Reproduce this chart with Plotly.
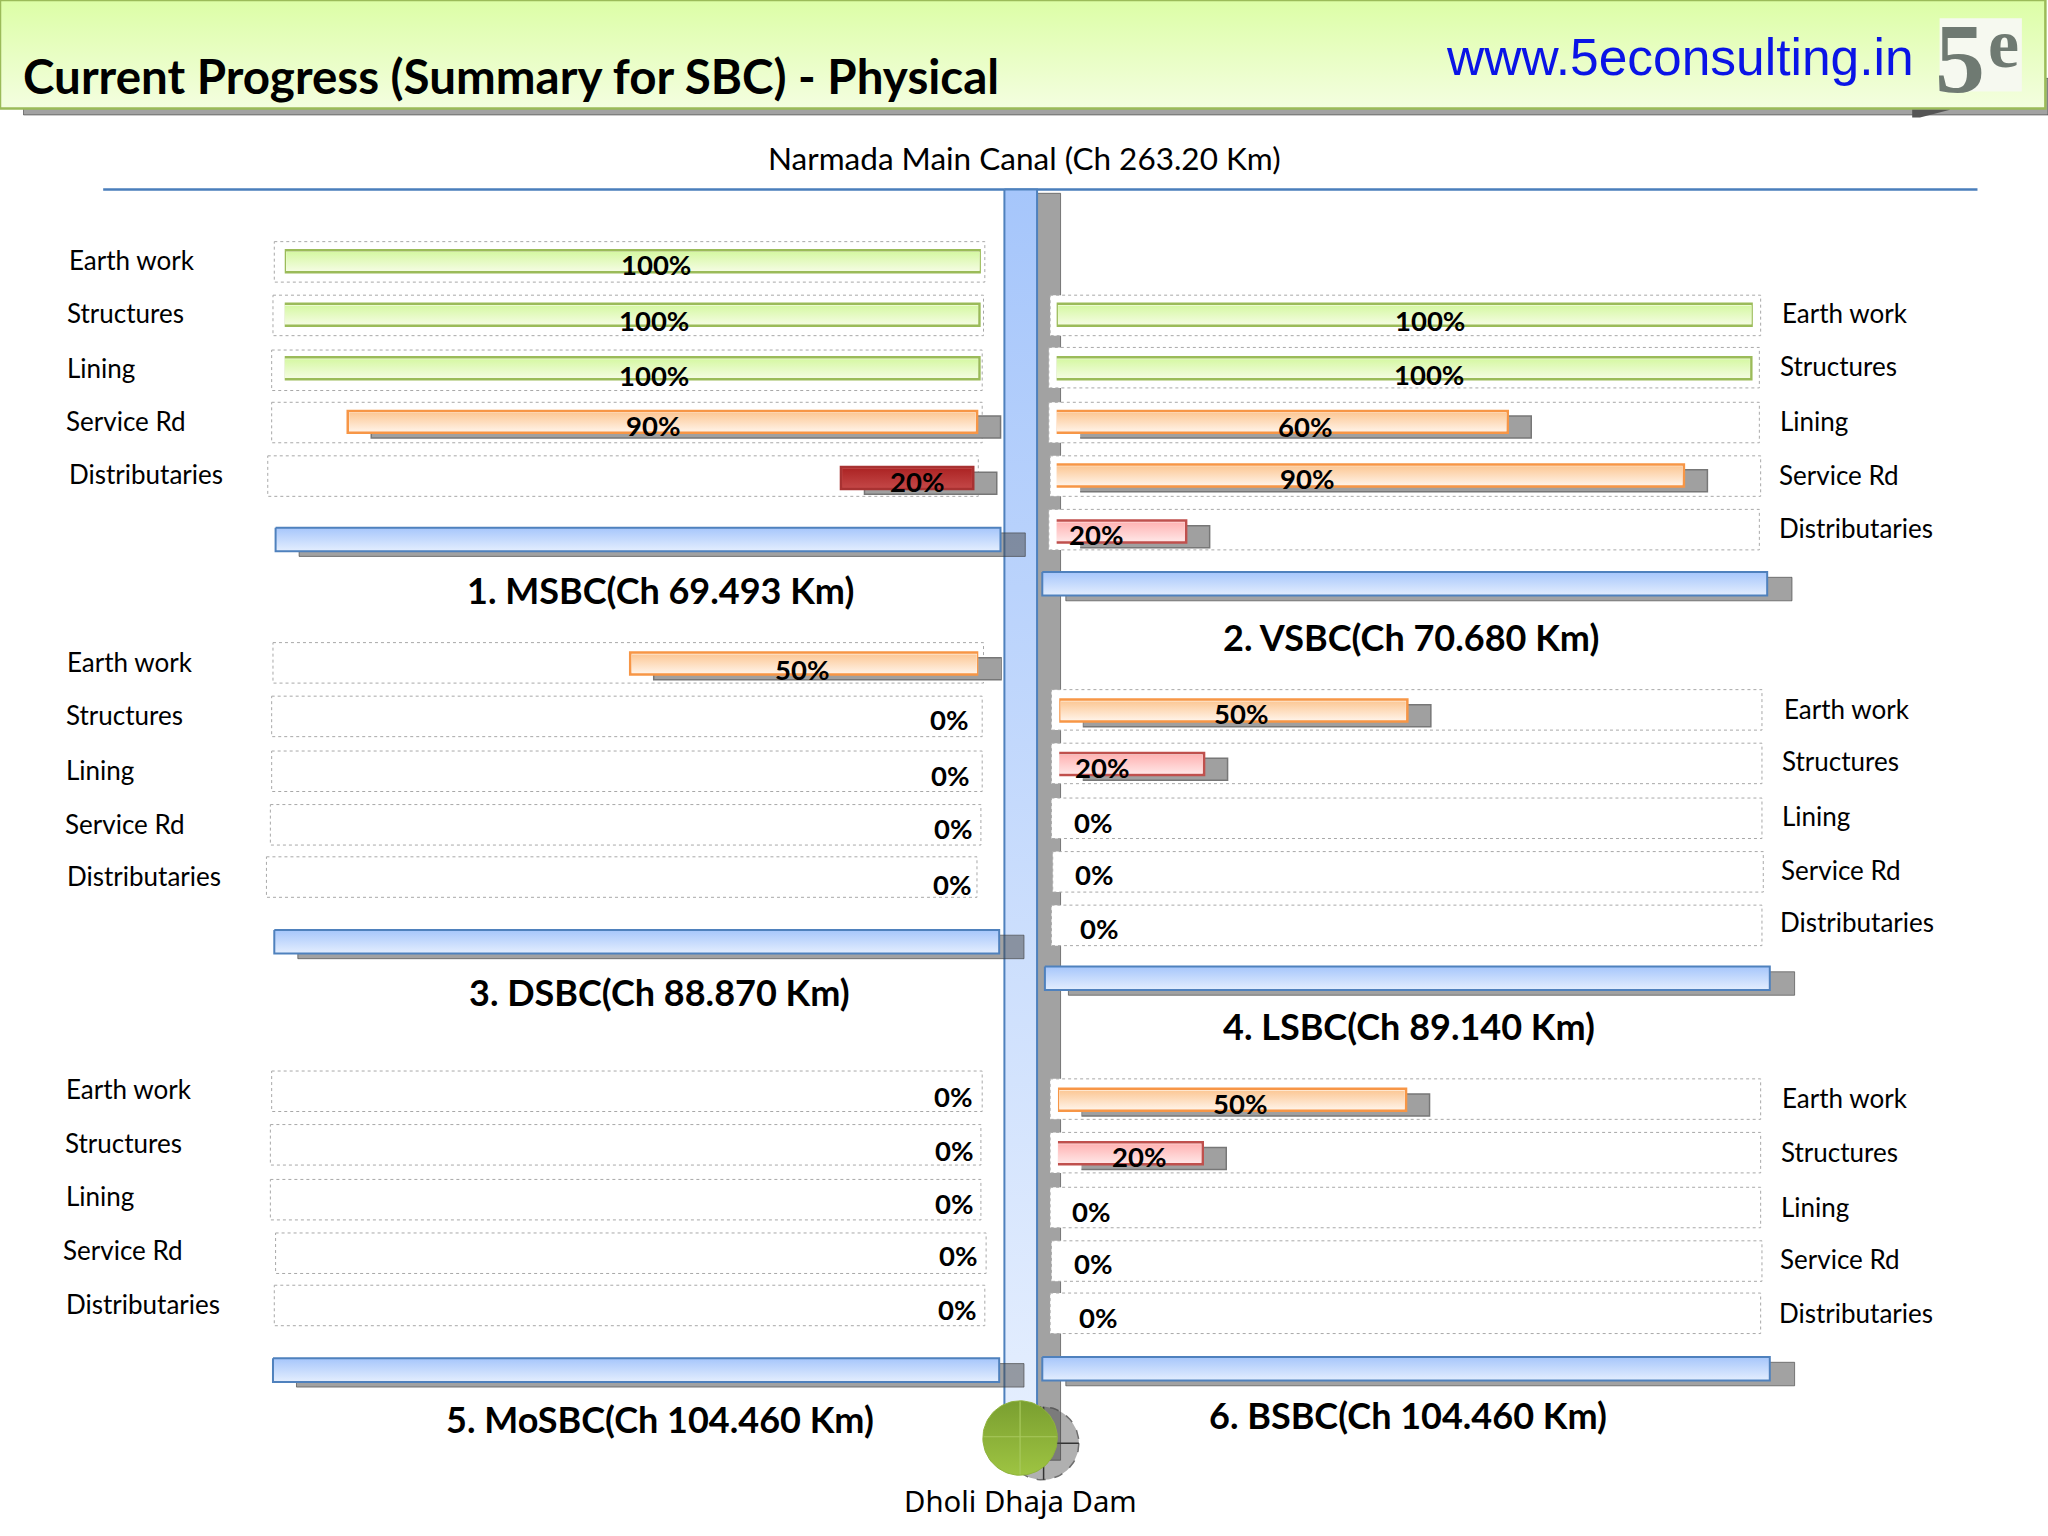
import numpy as np
import plotly.graph_objects as go

# sizes below are measured on a 1568x1176 preview of the slide
PW, PH = 1568, 1176

categories = ["Earth work", "Structures", "Lining", "Service Rd", "Distributaries"]
rows = [0, 1, 2, 3, 4]

# percent written on each row
msbc_pct = [100, 100, 100, 90, 20]
vsbc_pct = [100, 100, 60, 90, 20]
dsbc_pct = [50, 0, 0, 0, 0]
lsbc_pct = [50, 20, 0, 0, 0]
mosbc_pct = [0, 0, 0, 0, 0]
bsbc_pct = [50, 20, 0, 0, 0]

# length the bar really has on the slide (not always what the label says)
msbc_len = [100, 100, 100, 90.4, 19]
vsbc_len = [100, 100, 65, 90.5, 19]
dsbc_len = [50, 0, 0, 0, 0]
lsbc_len = [50, 21, 0, 0, 0]
mosbc_len = [0, 0, 0, 0, 0]
bsbc_len = [50, 21, 0, 0, 0]

panel_titles = ["1. MSBC(Ch 69.493 Km)", "2. VSBC(Ch 70.680 Km)", "3. DSBC(Ch 88.870 Km)",
                "4. LSBC(Ch 89.140 Km)", "5. MoSBC(Ch 104.460 Km)", "6. BSBC(Ch 104.460 Km)"]

GREEN = ("#d6f8a4", "#f3fcdf", "#9bbb59")
ORANGE = ("#fcc896", "#fff1e4", "#f79646")
PINK = ("#ffb4b4", "#ffe4e4", "#c0504d")
RED = ("#ad2525", "#c24545", "#a83232")
BLUE = ("#a6c6fb", "#e4eefe", "#4f81bd")
SHADOW = "rgba(70,70,70,0.5)"
SHADOW_LINE = "rgba(60,60,60,0.6)"
BAR_SPAN = 533
TRACK_W = 544

panels = [
    dict(pct=msbc_pct, length=msbc_len, side="L", end=751, rows_y=[200, 241, 282, 323, 366],
         skew=[0, 0.2, 0.2, 0.55, 1.1], lab_x=[51, 50, 50, 49, 51], lab_y=[199, 240, 282, 322, 363],
         pct_x=[502, 501, 501, 500, 702], pct_y=[202.5, 245.5, 287.5, 325.5, 368.5],
         trk_x=[210, 209, 208, 208, 205], trk_y=[185, 226, 268, 308, 349],
         blue=(211, 766, 404, 422), title=(506, 452), colors=[GREEN, GREEN, GREEN, ORANGE, RED]),
    dict(pct=vsbc_pct, length=vsbc_len, side="R", end=809, rows_y=[241, 282, 323, 364, 407],
         skew=[0, -0.2, -0.2, -0.4, -0.4], lab_x=[1362.5, 1361.5, 1361.5, 1360.5, 1360.5], lab_y=[239.5, 280.5, 322, 363.5, 404],
         pct_x=[1095, 1094, 999, 1001, 839], pct_y=[245.5, 286.5, 326.5, 366.5, 409.5],
         trk_x=[804, 803, 803, 804, 803], trk_y=[226, 266, 308, 349, 390],
         blue=(798, 1353, 438, 456), title=(1080, 487.5), colors=[GREEN, GREEN, ORANGE, ORANGE, PINK]),
    dict(pct=dsbc_pct, length=dsbc_len, side="L", end=749, rows_y=[508, 549, 590, 631, 672],
         skew=[0, 0, 0, 0, 0], lab_x=[50, 49, 49, 48, 50], lab_y=[506.5, 547.5, 589.5, 630.5, 670.5],
         pct_x=[614, 727, 728, 730, 729], pct_y=[512.5, 550.5, 593.5, 634.5, 677.5],
         trk_x=[209, 208, 208, 207, 204], trk_y=[492, 533, 575, 616, 656],
         blue=(210, 765, 712, 730), title=(505, 759.5), colors=[ORANGE] * 5),
    dict(pct=lsbc_pct, length=lsbc_len, side="R", end=811, rows_y=[544, 585, 626, 667, 708],
         skew=[0, -0.2, 0, 0, 0], lab_x=[1364, 1363, 1363, 1362, 1361.5], lab_y=[543, 583, 625, 666, 706],
         pct_x=[950, 844, 837, 838, 842], pct_y=[546.5, 587.5, 629.5, 669.5, 710.5],
         trk_x=[805, 805, 805, 806, 805], trk_y=[528, 569, 611, 652, 693],
         blue=(800, 1355, 740, 758), title=(1079, 785.5), colors=[ORANGE, PINK, PINK, PINK, PINK]),
    dict(pct=mosbc_pct, length=mosbc_len, side="L", end=751, rows_y=[835, 876, 917, 958, 999],
         skew=[0, 0, 0, 0, 0], lab_x=[49, 48, 49, 47, 49], lab_y=[834, 875, 916, 957, 998],
         pct_x=[730, 731, 731, 734, 733], pct_y=[839.5, 880.5, 921.5, 961.5, 1002.5],
         trk_x=[208, 207, 207, 211, 210], trk_y=[820, 861, 903, 944, 984],
         blue=(209, 765, 1040, 1058), title=(505, 1086.5), colors=[PINK] * 5),
    dict(pct=bsbc_pct, length=bsbc_len, side="R", end=810, rows_y=[842, 883, 924, 965, 1006],
         skew=[0, -0.2, 0, 0, 0], lab_x=[1363, 1362, 1362, 1361, 1360.5], lab_y=[841, 882, 924, 964, 1005],
         pct_x=[949, 872, 836, 837.5, 841], pct_y=[844.5, 885.5, 927.5, 967.5, 1008.5],
         trk_x=[804, 804, 804, 805, 804], trk_y=[826, 867, 909, 950, 990],
         blue=(798, 1355, 1039, 1057), title=(1078, 1083.5), colors=[ORANGE, PINK, PINK, PINK, PINK]),
]

fig = go.Figure()


def rect_xy(x0, x1, y0, y1):
    return [x0, x1, x1, x0, x0], [y0, y0, y1, y1, y0]


def grad_box(x0, x1, y0, y1, colors, xa="x", ya="y", lw=2.0):
    # colorscale runs from the bottom of the page up here, the y axes are reversed
    xs, ys = rect_xy(x0, x1, y0, y1)
    fig.add_trace(go.Scatter(x=xs, y=ys, mode="lines", fill="toself", xaxis=xa, yaxis=ya,
                             fillgradient=dict(type="vertical", colorscale=[[0, colors[1]], [1, colors[0]]]),
                             line=dict(color=colors[2], width=lw), hoverinfo="skip"))


def flat_box(x0, x1, y0, y1, fill, line, lw=1.0, dash="solid"):
    xs, ys = rect_xy(x0, x1, y0, y1)
    fig.add_trace(go.Scatter(x=xs, y=ys, mode="lines", fill="toself", fillcolor=fill,
                             line=dict(color=line, width=lw, dash=dash), hoverinfo="skip"))


def circle_xy(cx, cy, r):
    a = np.linspace(0, 2 * np.pi, 90)
    return cx + r * np.cos(a), cy + r * np.sin(a)


def line_xy(xs, ys, color, lw):
    fig.add_trace(go.Scatter(x=xs, y=ys, mode="lines", line=dict(color=color, width=lw), hoverinfo="skip"))


def note(x, y, text, size, bold=False, color="#000000", anchor="center", family="Lato"):
    fig.add_annotation(x=x, y=y, xref="x", yref="y", text=f"<b>{text}</b>" if bold else text,
                       showarrow=False, xanchor=anchor, yanchor="middle",
                       font=dict(size=size, color=color, family=family))


# --- slide furniture, all on the full page axes ---
flat_box(18, 1568, 60, 88, SHADOW, SHADOW_LINE)
grad_box(0, 1566, 0, 83, ("#dcfea6", "#f4fee0", "#9bbb59"), lw=2.5)
flat_box(1485, 1548, 14, 70, "#f6f9f0", "rgba(0,0,0,0)", 0)
fig.add_trace(go.Scatter(x=[1464, 1493, 1470, 1464], y=[84, 84, 90, 90], mode="lines", fill="toself",
                         fillcolor="#555555", line=dict(width=0), hoverinfo="skip"))
line_xy([79, 1514], [145, 145], "#4a7ebb", 2.5)

# dam behind the canal shadow
xs, ys = circle_xy(798, 1105, 28)
fig.add_trace(go.Scatter(x=xs, y=ys, mode="lines", fill="toself", fillcolor="#b0b0b0",
                         line=dict(color="#6e6e6e", width=1.5, dash="dash"), hoverinfo="skip"))
line_xy([799, 799], [1077, 1133], "#333333", 1.5)
line_xy([770, 826], [1105, 1105], "#333333", 1.5)

flat_box(794, 812, 148, 1118, SHADOW, SHADOW_LINE)
grad_box(769, 794, 145, 1085, BLUE)

for p in panels:
    for tx, ty in zip(p["trk_x"], p["trk_y"]):
        flat_box(tx, tx + TRACK_W, ty, ty + 31, "#ffffff", "#a8a8a8", 1, "dot")
for p in panels:
    b = p["blue"]
    flat_box(b[0] + 18, b[1] + 19, b[2] + 4, b[3] + 4, SHADOW, SHADOW_LINE)
    grad_box(b[0], b[1], b[2], b[3], BLUE)

# green dam ball
xs, ys = circle_xy(781, 1101, 28.5)
fig.add_trace(go.Scatter(x=xs, y=ys, mode="lines", fill="toself", line=dict(color="#8fb33c", width=1),
                         fillgradient=dict(type="vertical", colorscale=[[0, "#9ec442"], [1, "#7a9f30"]]),
                         hoverinfo="skip"))
line_xy([781, 781], [1073, 1129], "#a8c95e", 1.2)
line_xy([753, 809], [1100, 1100], "#a8c95e", 1.2)

# --- the six progress panels, each one a pair of percent axes plus a shifted pair for the shadow ---
axes = {}
aid = 2
BAR_H = 0.41
for p in panels:
    if p["side"] == "L":
        left, rng, = p["end"] - BAR_SPAN, [100, 0]
    else:
        left, rng = p["end"], [0, 100]
    top = p["rows_y"][0] - 20.5
    bot = p["rows_y"][0] + 184.5
    ypos = [r + (yy - p["rows_y"][0] - 41 * r) / 41 for r, yy in zip(rows, p["rows_y"])]

    for dx, dy, n in ((18, 4, aid), (0, 0, aid + 1)):
        axes[f"xaxis{n}"] = dict(domain=[(left + dx) / PW, (left + BAR_SPAN + dx) / PW], range=rng,
                                 anchor=f"y{n}", visible=False, fixedrange=True)
        axes[f"yaxis{n}"] = dict(domain=[1 - (bot + dy) / PH, 1 - (top + dy) / PH], range=[4.5, -0.5],
                                 anchor=f"x{n}", visible=False, fixedrange=True)

    keep = [i for i in rows if 0 < p["length"][i] < 100]
    if keep:
        fig.add_trace(go.Bar(y=[ypos[i] for i in keep], x=[p["length"][i] for i in keep],
                             base=[p["skew"][i] for i in keep], orientation="h", width=BAR_H,
                             marker=dict(color="#a0a0a0", line=dict(color="#777777", width=1.5)),
                             xaxis=f"x{aid}", yaxis=f"y{aid}", hoverinfo="skip"))

    keep = [i for i in rows if p["length"][i] > 0]
    if keep:
        fig.add_trace(go.Bar(y=[ypos[i] for i in keep], x=[p["length"][i] for i in keep],
                             base=[p["skew"][i] for i in keep], orientation="h", width=BAR_H,
                             marker=dict(color=[p["colors"][i][1] for i in keep],
                                         line=dict(color=[p["colors"][i][2] for i in keep], width=2.5)),
                             xaxis=f"x{aid + 1}", yaxis=f"y{aid + 1}", hoverinfo="skip"))
        # bars cannot take a gradient, so it is laid over them just inside the outline
        for i in keep:
            x0 = p["skew"][i] + 0.22
            x1 = p["skew"][i] + p["length"][i] - 0.22
            y0 = ypos[i] - BAR_H / 2 + 0.035
            y1 = ypos[i] + BAR_H / 2 - 0.035
            xs, ys = rect_xy(x0, x1, y0, y1)
            c = p["colors"][i]
            fig.add_trace(go.Scatter(x=xs, y=ys, mode="lines", fill="toself", line=dict(width=0),
                                     fillgradient=dict(type="vertical", colorscale=[[0, c[1]], [1, c[0]]]),
                                     xaxis=f"x{aid + 1}", yaxis=f"y{aid + 1}", hoverinfo="skip"))
    aid += 2

    for i in rows:
        note(p["lab_x"][i], p["lab_y"][i], categories[i], 26, anchor="left")
        note(p["pct_x"][i], p["pct_y"][i], f"{p['pct'][i]}%", 27.5, bold=True)

for p, t in zip(panels, panel_titles):
    note(p["title"][0], p["title"][1], t, 36, bold=True)

note(16, 58, "Current Progress (Summary for SBC) - Physical", 47.5, bold=True, anchor="left")
note(1286, 44, "www.5econsulting.in", 51.5, color="#0a14e6", family="Liberation Sans")
note(784, 121, "Narmada Main Canal (Ch 263.20 Km)", 31.5)
note(781, 1149, "Dholi Dhaja Dam", 29.3, family="Noto Sans")
note(1501, 45, "5", 100, bold=True, color="#6f7a72", family="Liberation Serif")
note(1534, 33, "e", 70, bold=True, color="#6f7a72", family="Liberation Serif")

fig.update_layout(
    width=2048,
    height=1536,
    margin=dict(l=0, r=0, t=0, b=0),
    paper_bgcolor="white",
    plot_bgcolor="rgba(0,0,0,0)",
    showlegend=False,
    xaxis=dict(domain=[0, 1], range=[0, PW], visible=False, fixedrange=True),
    yaxis=dict(domain=[0, 1], range=[PH, 0], visible=False, fixedrange=True),
    **axes,
)

fig.write_html("out.html", post_script="document.body.style.margin='0';", config=dict(displayModeBar=False))
